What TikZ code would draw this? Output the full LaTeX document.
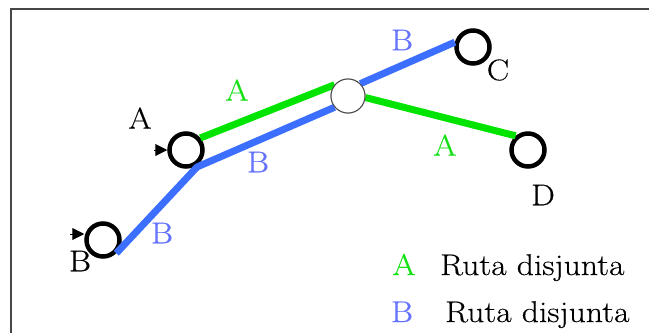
\documentclass[tikz,border=0pt]{standalone}
\usepackage{fontspec}
\setmainfont{Latin Modern Roman}[FakeStretch=1.12, FakeBold=0.4]
\usetikzlibrary{arrows.meta}
\definecolor{pathgreen}{RGB}{0,228,0}
\definecolor{pathblue}{RGB}{60,110,255}
\definecolor{lblgreen}{RGB}{20,225,20}
\definecolor{lblblue}{RGB}{100,115,255}
\definecolor{framegray}{RGB}{70,70,70}
\tikzset{
  router/.style={circle, draw=black, line width=4.5pt, fill=white, minimum size=33pt, inner sep=0pt},
  hub/.style={circle, draw=black!70, line width=1pt, fill=white, minimum size=34pt, inner sep=0pt},
  glink/.style={pathgreen, line width=7pt},
  blink/.style={pathblue, line width=7pt, line join=round},
  txt/.style={font=\fontsize{30}{30}\selectfont, inner sep=0pt},
  inarrow/.style={-{Triangle[length=12pt,width=12pt]}, line width=1pt, black}
}
\begin{document}
\begin{tikzpicture}[x=1pt,y=-1pt]
\useasboundingbox (0,0) rectangle (649,333);
\draw[framegray, line width=2pt] (11,333) -- (11,9) -- (649,9);
% nodes
\node[router] (A) at (186,150) {};
\node[router] (B) at (103,240) {};
\node[hub] (M) at (348,96) {};
\node[router] (C) at (473,47) {};
\node[router] (D) at (528,150) {};
\coordinate (K) at (197,167);
% links
\draw[glink] (A.40) -- (M.140);
\draw[glink] (M.-5) -- (D.131);
\draw[blink] (B.-45) -- (K) -- (M.220);
\draw[blink] (M.45) -- (C.165);
% redraw hub on top
\node[hub] at (M) {};
% entry arrows
\coordinate (ain) at (154,150);
\coordinate (bin) at (70,234);
\draw[inarrow] (ain) -- (A.west);
\draw[inarrow] (bin) -- (bin -| B.west);
% labels
\node[txt] (la) at (140,118) {A};
\node[txt] (lb) at (80,261) {B};
\node[txt] (lc) at (498,70) {C};
\node[txt] (ld) at (543,195) {D};
\node[txt, lblblue] (b1) at (162,233) {B};
\node[txt, lblblue] (b2) at (258,162) {B};
\node[txt, lblblue] (b3) at (402,40) {B};
\node[txt, lblgreen] (a1) at (237,90) {A};
\node[txt, lblgreen] (a2) at (445,145) {A};
% legend
\node[txt, lblgreen, anchor=base] (ga) at (404,275) {A};
\node[txt, anchor=base west] (gt) at (440,275) {Ruta disjunta};
\node[txt, lblblue, anchor=base] (gb) at (402,322) {B};
\node[txt, anchor=base west] (bt) at (445,322) {Ruta disjunta};
\end{tikzpicture}
\end{document}
